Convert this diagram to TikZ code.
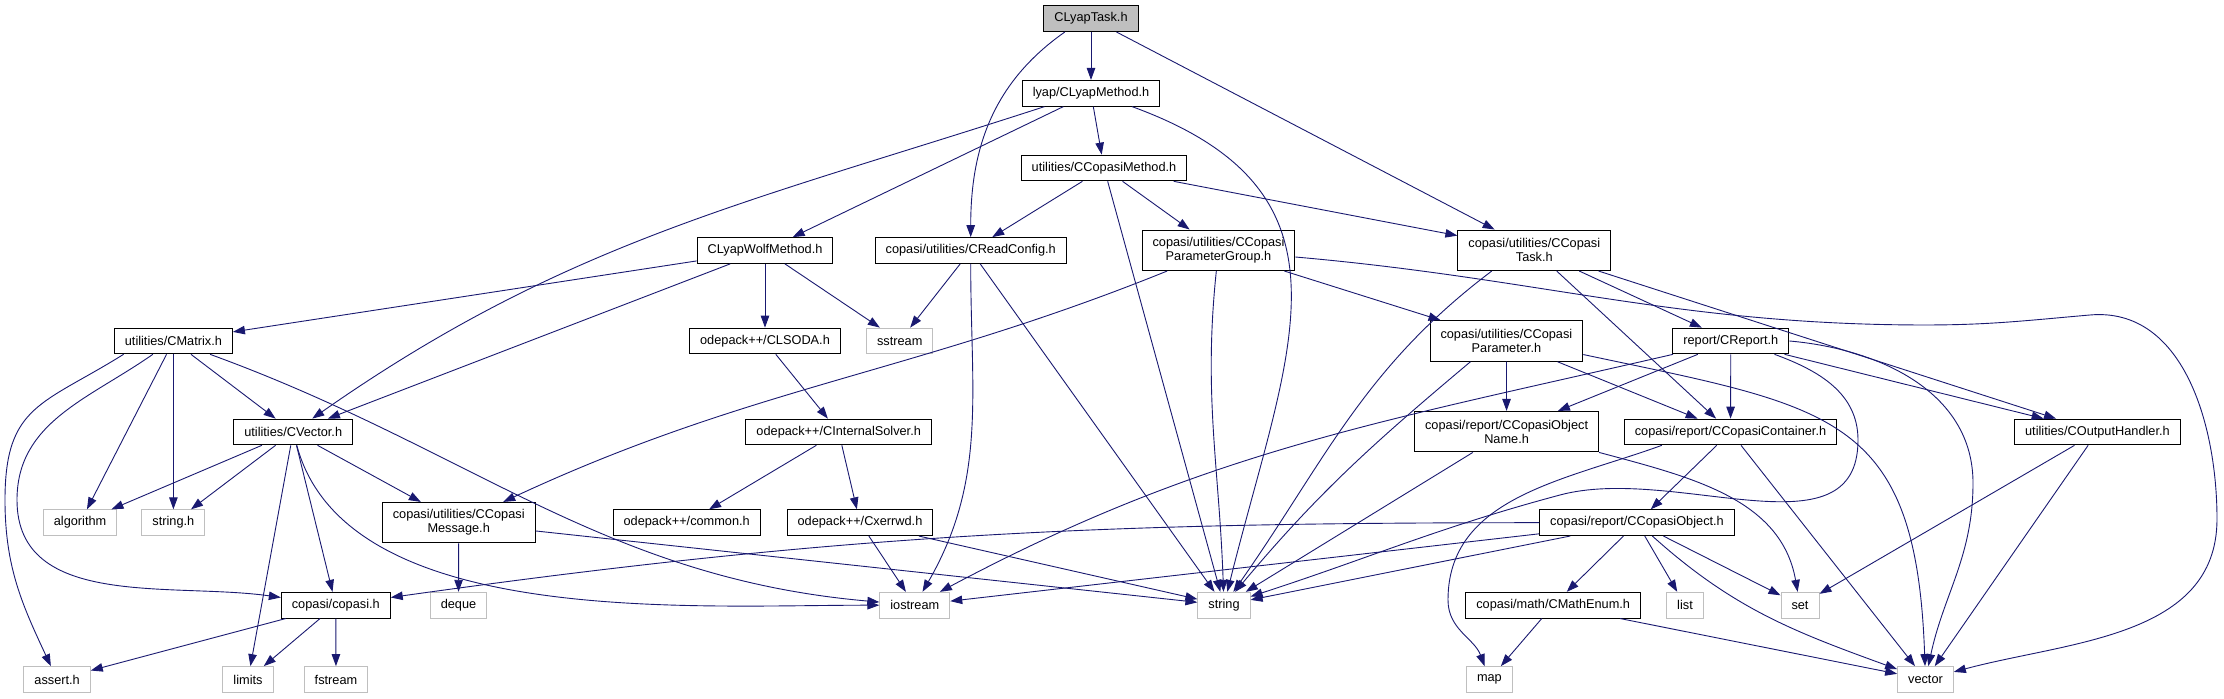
\documentclass[tikz,border=0pt]{standalone}
\usepackage{fontspec}
\setmainfont{Liberation Sans}
\usetikzlibrary{arrows.meta}
\definecolor{edgeblue}{HTML}{191970}
\definecolor{sysgray}{HTML}{BFBFBF}

\begin{document}
\begin{tikzpicture}[
  x=0.5pt, y=0.5pt,
  hdr/.style={draw=black, fill=white, line width=0.5pt, minimum height=12.85pt,
              inner xsep=5.25pt, inner ysep=1.5pt, align=center,
              font=\fontsize{6.375}{7}\selectfont},
  hdrtwo/.style={hdr, minimum height=20.25pt},
  sys/.style={hdr, draw=sysgray},
  root/.style={hdr, fill=sysgray},
  inc/.style={edgeblue, line width=0.45pt, -{Triangle[length=6pt,width=4.25pt]}},
]
  \useasboundingbox (0,0) rectangle (2224,699);

  \node[root] (task) at (1091,680.3) {CLyapTask.h};
  \node[hdr] (lmeth) at (1091,605.7) {lyap/CLyapMethod.h};
  \node[hdr] (cmeth) at (1104,531) {utilities/CCopasiMethod.h};

  % method / task level
  \node[hdr] (wolf) at (765,448.5) {CLyapWolfMethod.h};
  \node[hdr] (rconf) at (970.7,448.5) {copasi/utilities/CReadConfig.h};
  \node[hdrtwo] (pgroup) at (1218.5,448.7) {copasi/utilities/CCopasi\\ParameterGroup.h};
  \node[hdrtwo] (ctask) at (1534.3,448.7) {copasi/utilities/CCopasi\\Task.h};

  \node[hdr] (matrix) at (173.4,358) {utilities/CMatrix.h};
  \node[hdr] (lsoda) at (765,358) {odepack++/CLSODA.h};
  \node[sys] (sstream) at (899.7,358) {sstream};
  \node[hdrtwo] (param) at (1506.4,358) {copasi/utilities/CCopasi\\Parameter.h};
  \node[hdr] (report) at (1730.8,358) {report/CReport.h};

  \node[hdr] (vec) at (293.2,267) {utilities/CVector.h};
  \node[hdr] (isolver) at (838.7,267) {odepack++/CInternalSolver.h};
  \node[hdrtwo] (oname) at (1506.6,267.3) {copasi/report/CCopasiObject\\Name.h};
  \node[hdr] (cont) at (1730.5,267) {copasi/report/CCopasiContainer.h};
  \node[hdr] (ohandler) at (2097.4,267) {utilities/COutputHandler.h};

  \node[sys] (algorithm) at (80.1,176.3) {algorithm};
  \node[sys] (stringh) at (173.4,176.3) {string.h};
  \node[hdrtwo] (msg) at (458.7,176.3) {copasi/utilities/CCopasi\\Message.h};
  \node[hdr] (common) at (686.7,176.3) {odepack++/common.h};
  \node[hdr] (xerrwd) at (860,176.3) {odepack++/Cxerrwd.h};
  \node[hdr] (cobj) at (1637,176.3) {copasi/report/CCopasiObject.h};

  \node[hdr] (copasi) at (335.8,93.8) {copasi/copasi.h};
  \node[sys] (deque) at (458.5,93.8) {deque};
  \node[sys] (iostream) at (914.8,93.8) {iostream};
  \node[sys] (string) at (1224,93.8) {string};
  \node[hdr] (menum) at (1553.2,93.8) {copasi/math/CMathEnum.h};
  \node[sys] (list) at (1685,93.8) {list};
  \node[sys] (set) at (1800,93.8) {set};

  % system headers at the bottom
  \node[sys] (assert) at (57.1,19.5) {assert.h};
  \node[sys] (limits) at (248,19.5) {limits};
  \node[sys] (fstream) at (336,19.5) {fstream};
  \node[sys] (map) at (1489.4,19.5) {map};
  \node[sys] (vector) at (1925.5,19.5) {vector};

  % CLyapTask.h
  \draw[inc] (task) -- (lmeth);
  \draw[inc] (task.207) to[out=215,in=90] (rconf);
  \draw[inc] (task) -- (ctask);

  % lyap/CLyapMethod.h
  \draw[inc] (lmeth) -- (cmeth);
  \draw[inc] (lmeth) -- (wolf);
  \draw[inc] (lmeth.196) to[out=198,in=35] (vec);
  \draw[inc] (lmeth.-18) to[out=-20,in=76,looseness=1.3] (string);

  % utilities/CCopasiMethod.h
  \foreach \s in {rconf, pgroup, ctask, string} { \draw[inc] (cmeth) -- (\s); }

  % CLyapWolfMethod.h
  \foreach \s in {matrix, vec, lsoda, sstream} { \draw[inc] (wolf) -- (\s); }

  % copasi/utilities/CReadConfig.h
  \draw[inc] (rconf) -- (sstream);
  \draw[inc] (rconf) to[out=-90,in=60] (iostream);
  \draw[inc] (rconf) -- (string);

  % copasi/utilities/CCopasiParameterGroup.h
  \draw[inc] (pgroup) to[out=202,in=25] (msg);
  \draw[inc] (pgroup) to[out=-96,in=92] (string);
  \draw[inc] (pgroup) -- (param);
  \draw[inc] (pgroup) to[out=-5,in=180] (1925,374) to[out=0,in=185] (2090,384)
    to[out=5,in=90] (2217,180) to[out=-90,in=15] (vector);

  % copasi/utilities/CCopasiTask.h
  \draw[inc] (ctask.206) to[out=217,in=55] (string);
  \foreach \s in {cont, report, ohandler} { \draw[inc] (ctask) -- (\s); }

  % report/CReport.h
  \draw[inc] (report) to[out=193,in=28] (iostream);
  \foreach \s in {oname, cont, ohandler} { \draw[inc] (report) -- (\s); }
  \draw[inc] (report.-17) to[out=-20,in=90] (1858,259) to[out=-90,in=15] (1560,204)
    to[out=195,in=18] (string);
  \draw[inc] (report.east) to[out=-5,in=90] (1973,216) to[out=-90,in=78] (vector);

  % copasi/utilities/CCopasiParameter.h
  \draw[inc] (param) -- (oname);
  \draw[inc] (param) -- (cont);
  \draw[inc] (param.210) to[out=220,in=50] (string);
  \draw[inc] (param.-10) to[out=-12,in=92,looseness=1.4] (vector);

  % copasi/report/CCopasiObjectName.h
  \draw[inc] (oname) -- (string);
  \draw[inc] (oname.south east) to[out=-15,in=100] (set);

  % copasi/report/CCopasiContainer.h
  \draw[inc] (cont.191) to[out=200,in=90] (1448,99) to[out=-90,in=110] (map);
  \draw[inc] (cont) -- (cobj);
  \draw[inc] (cont) -- (vector);

  % utilities/COutputHandler.h
  \draw[inc] (ohandler) -- (set);
  \draw[inc] (ohandler) -- (vector);

  % copasi/report/CCopasiObject.h
  \draw[inc] (cobj) to[out=180,in=8] (copasi);
  \foreach \s in {iostream, string, menum, list, set} { \draw[inc] (cobj) -- (\s); }
  \draw[inc] (cobj.-41) to[out=-42,in=160] (vector);

  % copasi/math/CMathEnum.h
  \draw[inc] (menum) -- (map);
  \draw[inc] (menum) -- (vector);

  % utilities/CVector.h
  \foreach \s in {algorithm, stringh, msg, copasi, limits} { \draw[inc] (vec) -- (\s); }
  \draw[inc] (vec) to[out=-75,in=180,looseness=0.8] (iostream);

  % utilities/CMatrix.h
  \foreach \s in {vec, algorithm, stringh} { \draw[inc] (matrix) -- (\s); }
  \draw[inc] (matrix.213) to[out=215,in=90] (17,199) to[out=-90,in=172] (copasi);
  \draw[inc] (matrix.195) to[out=212,in=90,looseness=1.3] (5,199) to[out=-90,in=115] (assert);
  \draw[inc] (matrix) to[out=-20,in=175] (iostream);

  % copasi/utilities/CCopasiMessage.h
  \draw[inc] (msg) -- (deque);
  \draw[inc] (msg) -- (string);

  % copasi/copasi.h
  \foreach \s in {assert, limits, fstream} { \draw[inc] (copasi) -- (\s); }

  % odepack++
  \draw[inc] (lsoda) -- (isolver);
  \draw[inc] (isolver) -- (common);
  \draw[inc] (isolver) -- (xerrwd);
  \draw[inc] (xerrwd) -- (iostream);
  \draw[inc] (xerrwd) -- (string);
\end{tikzpicture}
\end{document}
